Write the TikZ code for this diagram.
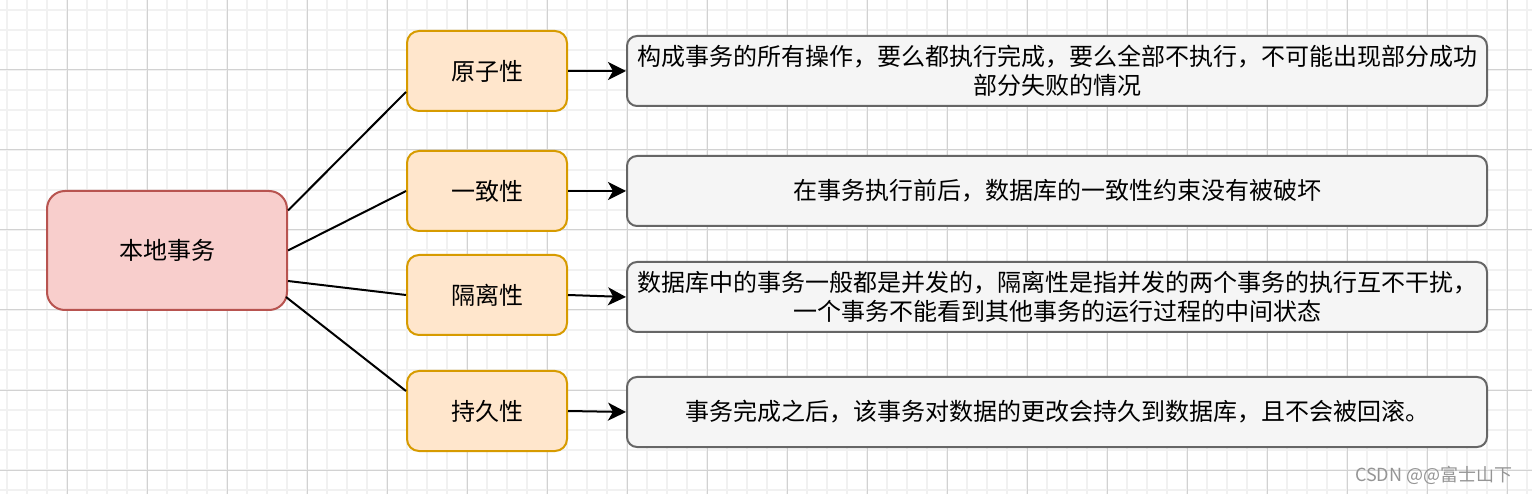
\documentclass[tikz,border=0pt]{standalone}
\usepackage{fontspec}
\setmainfont{Noto Sans CJK SC}
\usepackage{xcolor}
\usetikzlibrary{arrows.meta}
\definecolor{myred}{HTML}{F8CECC}
\definecolor{myreddark}{HTML}{B85450}
\definecolor{myorange}{HTML}{FFE6CC}
\definecolor{myorangedark}{HTML}{D79B00}
\definecolor{mygray}{HTML}{F5F5F5}
\definecolor{mygraydark}{HTML}{666666}
\definecolor{gridminor}{HTML}{F1F1F1}
\definecolor{gridmajor}{HTML}{D2D2D2}
\definecolor{marktext}{HTML}{959595}
\begin{document}
\begin{tikzpicture}[x=1pt,y=-1pt,
every node/.style={font=\fontsize{24}{29}\selectfont, inner sep=0pt, align=center},
root/.style={draw=myreddark, fill=myred, line width=2pt, rounded corners=18pt,
  minimum width=240pt, minimum height=119pt},
prop/.style={draw=myorangedark, fill=myorange, line width=2pt, rounded corners=12pt,
  minimum width=160pt, minimum height=80pt},
desc/.style={draw=mygraydark, fill=mygray, line width=2pt, rounded corners=10pt,
  minimum width=860pt, minimum height=70pt},
edgeline/.style={line width=2pt},
arrowline/.style={line width=2pt, -{Stealth[length=18pt,width=18pt,inset=5pt]}}]
\useasboundingbox (0,0) rectangle (1532,494);
\fill[white] (0,0) rectangle (1532,494);
% grid
\foreach \x in {7,27,...,1527} \draw[gridminor, line width=1.5pt] (\x,0) -- (\x,494);
\foreach \y in {10,30,...,490} \draw[gridminor, line width=1.5pt] (0,\y) -- (1532,\y);
\foreach \x in {67,147,...,1507} \draw[gridmajor, line width=1pt] (\x,0) -- (\x,494);
\foreach \y in {70,150,...,470} \draw[gridmajor, line width=1pt] (0,\y) -- (1532,\y);
% nodes
\node[root] (local) at (167,250.5) {本地事务};
\node[prop] (p1) at (487,71) {原子性};
\node[prop] (p2) at (487,191) {一致性};
\node[prop] (p3) at (487,295) {隔离性};
\node[prop] (p4) at (487,411) {持久性};
\node[desc] (d1) at (1057,71) {构成事务的所有操作，要么都执行完成，要么全部不执行，不可能出现部分成功\\部分失败的情况};
\node[desc] (d2) at (1057,191) {在事务执行前后，数据库的一致性约束没有被破坏};
\node[desc] (d3) at (1057,297) {数据库中的事务一般都是并发的，隔离性是指并发的两个事务的执行互不干扰，\\一个事务不能看到其他事务的运行过程的中间状态};
\node[desc] (d4) at (1057,412) {事务完成之后，该事务对数据的更改会持久到数据库，且不会被回滚。};
% connectors
\draw[edgeline] ([yshift=40pt]local.east) -- ([yshift=-21pt]p1.west);
\draw[edgeline] (local.east) -- (p2.west);
\draw[edgeline] ([yshift=-30.5pt]local.east) -- (p3.west);
\draw[edgeline] ([xshift=-2pt,yshift=-46.5pt]local.east) -- ([yshift=20pt]p4.west);
\draw[arrowline] (p1.east) -- (d1.west);
\draw[arrowline] (p2.east) -- (d2.west);
\draw[arrowline] (p3.east) -- (d3.west);
\draw[arrowline] (p4.east) -- (d4.west);
\node[font=\fontsize{18}{20}\selectfont, text=marktext, anchor=west] (mark) at (1355,475) {CSDN @@富士山下};
\end{tikzpicture}
\end{document}
